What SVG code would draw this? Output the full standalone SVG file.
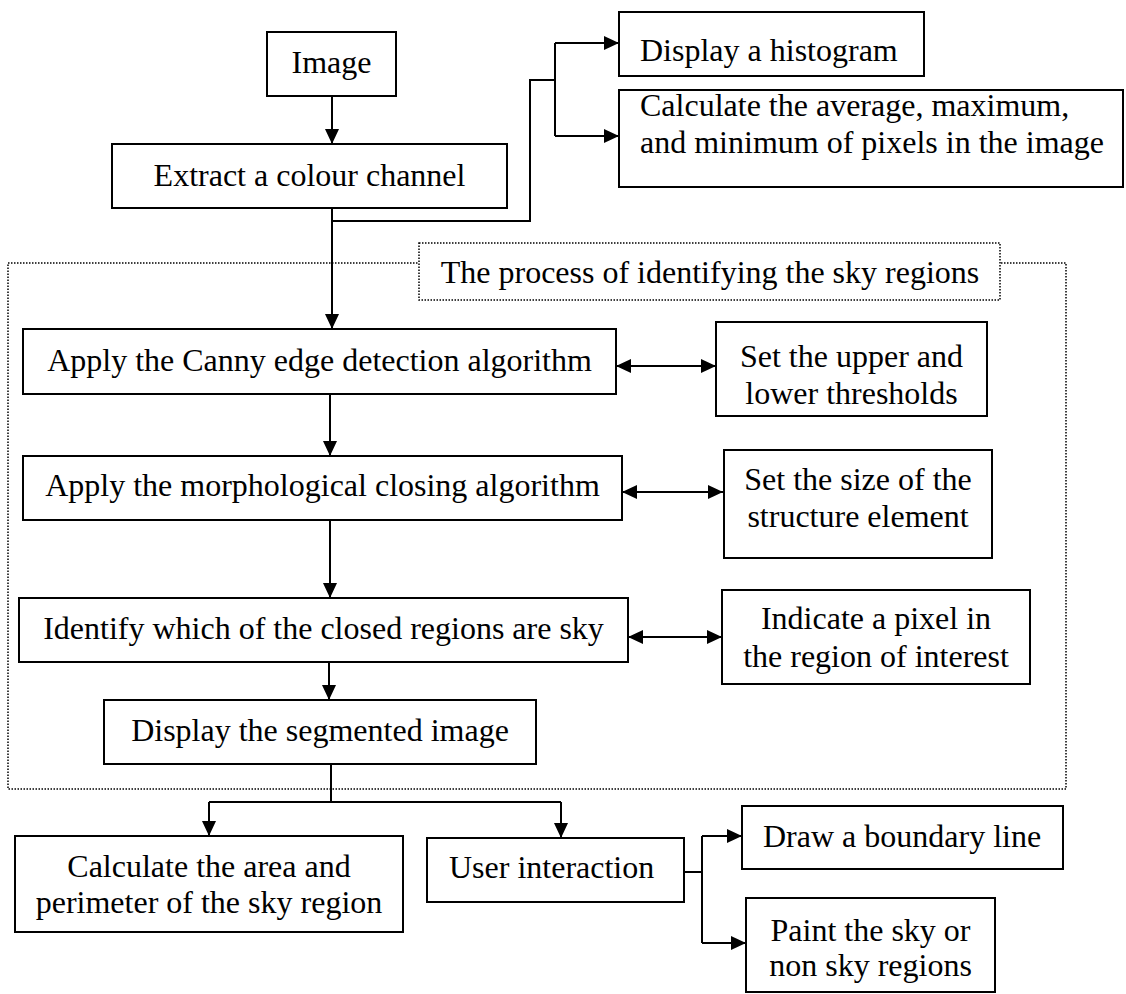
<svg xmlns="http://www.w3.org/2000/svg" width="1126" height="994" viewBox="0 0 1126 994">
  <style>
    .box { fill: #ffffff; stroke: #000000; stroke-width: 2; }
    .frame { fill: none; stroke: #000000; stroke-width: 1.5; stroke-dasharray: 1.5 1.5; }
    .label-box { fill: #ffffff; stroke: #000000; stroke-width: 1.5; stroke-dasharray: 1.5 1.5; }
    .t { font-family: "Liberation Serif", "Times New Roman", serif; font-size: 32px; fill: #000000; }
    .c { text-anchor: middle; }
    .edge { fill: none; stroke: #000000; stroke-width: 2; }
    .arrow { marker-end: url(#head); }
    .both { marker-start: url(#head); marker-end: url(#head); }
  </style>
  <defs>
    <marker id="head" viewBox="0 0 15 14" markerWidth="15" markerHeight="14" refX="15" refY="7" orient="auto-start-reverse" markerUnits="userSpaceOnUse">
      <path d="M0,0 L15,7 L0,14 Z" fill="#000000"/>
    </marker>
  </defs>

  <rect width="1126" height="994" fill="#ffffff"/>

  <!-- dotted frame around the sky identification stage -->
  <g id="sky-process">
    <rect class="frame" x="8" y="263" width="1058" height="526"/>
    <rect class="label-box" x="419" y="243" width="581" height="57"/>
    <text class="t c" x="710" y="283">The process of identifying the sky regions</text>
  </g>

  <g id="connectors">
    <path class="edge arrow" d="M332,96 V144"/>
    <path class="edge" d="M332,208 V221 H530 V80 H555"/>
    <path class="edge" d="M555,43 V136"/>
    <path class="edge arrow" d="M555,43 H619"/>
    <path class="edge arrow" d="M555,136 H619"/>
    <path class="edge arrow" d="M332,208 V329"/>
    <path class="edge both" d="M616,366 H716"/>
    <path class="edge arrow" d="M330,394 V456"/>
    <path class="edge both" d="M622,492 H723"/>
    <path class="edge arrow" d="M330,520 V598"/>
    <path class="edge both" d="M628,637 H722"/>
    <path class="edge arrow" d="M329,662 V700"/>
    <path class="edge" d="M331,764 V802"/>
    <path class="edge" d="M209,802 H561"/>
    <path class="edge arrow" d="M209,802 V836"/>
    <path class="edge arrow" d="M561,802 V838"/>
    <path class="edge" d="M684,872 H702"/>
    <path class="edge" d="M702,836 V943"/>
    <path class="edge arrow" d="M702,836 H742"/>
    <path class="edge arrow" d="M702,943 H746"/>
  </g>

  <g id="image">
    <rect class="box" x="267" y="32" width="129" height="64"/>
    <text class="t c" x="331.5" y="73">Image</text>
  </g>

  <g id="extract-channel">
    <rect class="box" x="112" y="144" width="395" height="64"/>
    <text class="t c" x="309.5" y="186">Extract a colour channel</text>
  </g>

  <g id="histogram">
    <rect class="box" x="619" y="12" width="305" height="64"/>
    <text class="t" x="640" y="61">Display a histogram</text>
  </g>

  <g id="statistics">
    <rect class="box" x="619" y="90" width="504" height="97"/>
    <text class="t" x="640" y="116">Calculate the average, maximum,</text>
    <text class="t" x="640" y="153">and minimum of pixels in the image</text>
  </g>

  <g id="canny">
    <rect class="box" x="23" y="329" width="593" height="65"/>
    <text class="t c" x="319.5" y="371">Apply the Canny edge detection algorithm</text>
  </g>

  <g id="thresholds">
    <rect class="box" x="716" y="322" width="271" height="94"/>
    <text class="t c" x="851.5" y="367">Set the upper and</text>
    <text class="t c" x="851.5" y="404">lower thresholds</text>
  </g>

  <g id="closing">
    <rect class="box" x="23" y="456" width="599" height="64"/>
    <text class="t c" x="322.5" y="496">Apply the morphological closing algorithm</text>
  </g>

  <g id="structure-element">
    <rect class="box" x="724" y="450" width="268" height="108"/>
    <text class="t c" x="858" y="490">Set the size of the</text>
    <text class="t c" x="858" y="527">structure element</text>
  </g>

  <g id="identify-sky">
    <rect class="box" x="19" y="598" width="609" height="64"/>
    <text class="t c" x="323.5" y="639">Identify which of the closed regions are sky</text>
  </g>

  <g id="seed-pixel">
    <rect class="box" x="722" y="590" width="308" height="94"/>
    <text class="t c" x="876" y="629">Indicate a pixel in</text>
    <text class="t c" x="876" y="667">the region of interest</text>
  </g>

  <g id="segmented">
    <rect class="box" x="104" y="700" width="432" height="64"/>
    <text class="t c" x="320" y="741">Display the segmented image</text>
  </g>

  <g id="area-perimeter">
    <rect class="box" x="15" y="836" width="388" height="96"/>
    <text class="t c" x="209" y="877">Calculate the area and</text>
    <text class="t c" x="209" y="913">perimeter of the sky region</text>
  </g>

  <g id="user-interaction">
    <rect class="box" x="427" y="838" width="257" height="64"/>
    <text class="t" x="449" y="878">User interaction</text>
  </g>

  <g id="boundary-line">
    <rect class="box" x="742" y="806" width="321" height="63"/>
    <text class="t" x="763" y="847">Draw a boundary line</text>
  </g>

  <g id="paint-regions">
    <rect class="box" x="746" y="898" width="249" height="94"/>
    <text class="t c" x="870.5" y="941">Paint the sky or</text>
    <text class="t c" x="870.5" y="976">non sky regions</text>
  </g>
</svg>
